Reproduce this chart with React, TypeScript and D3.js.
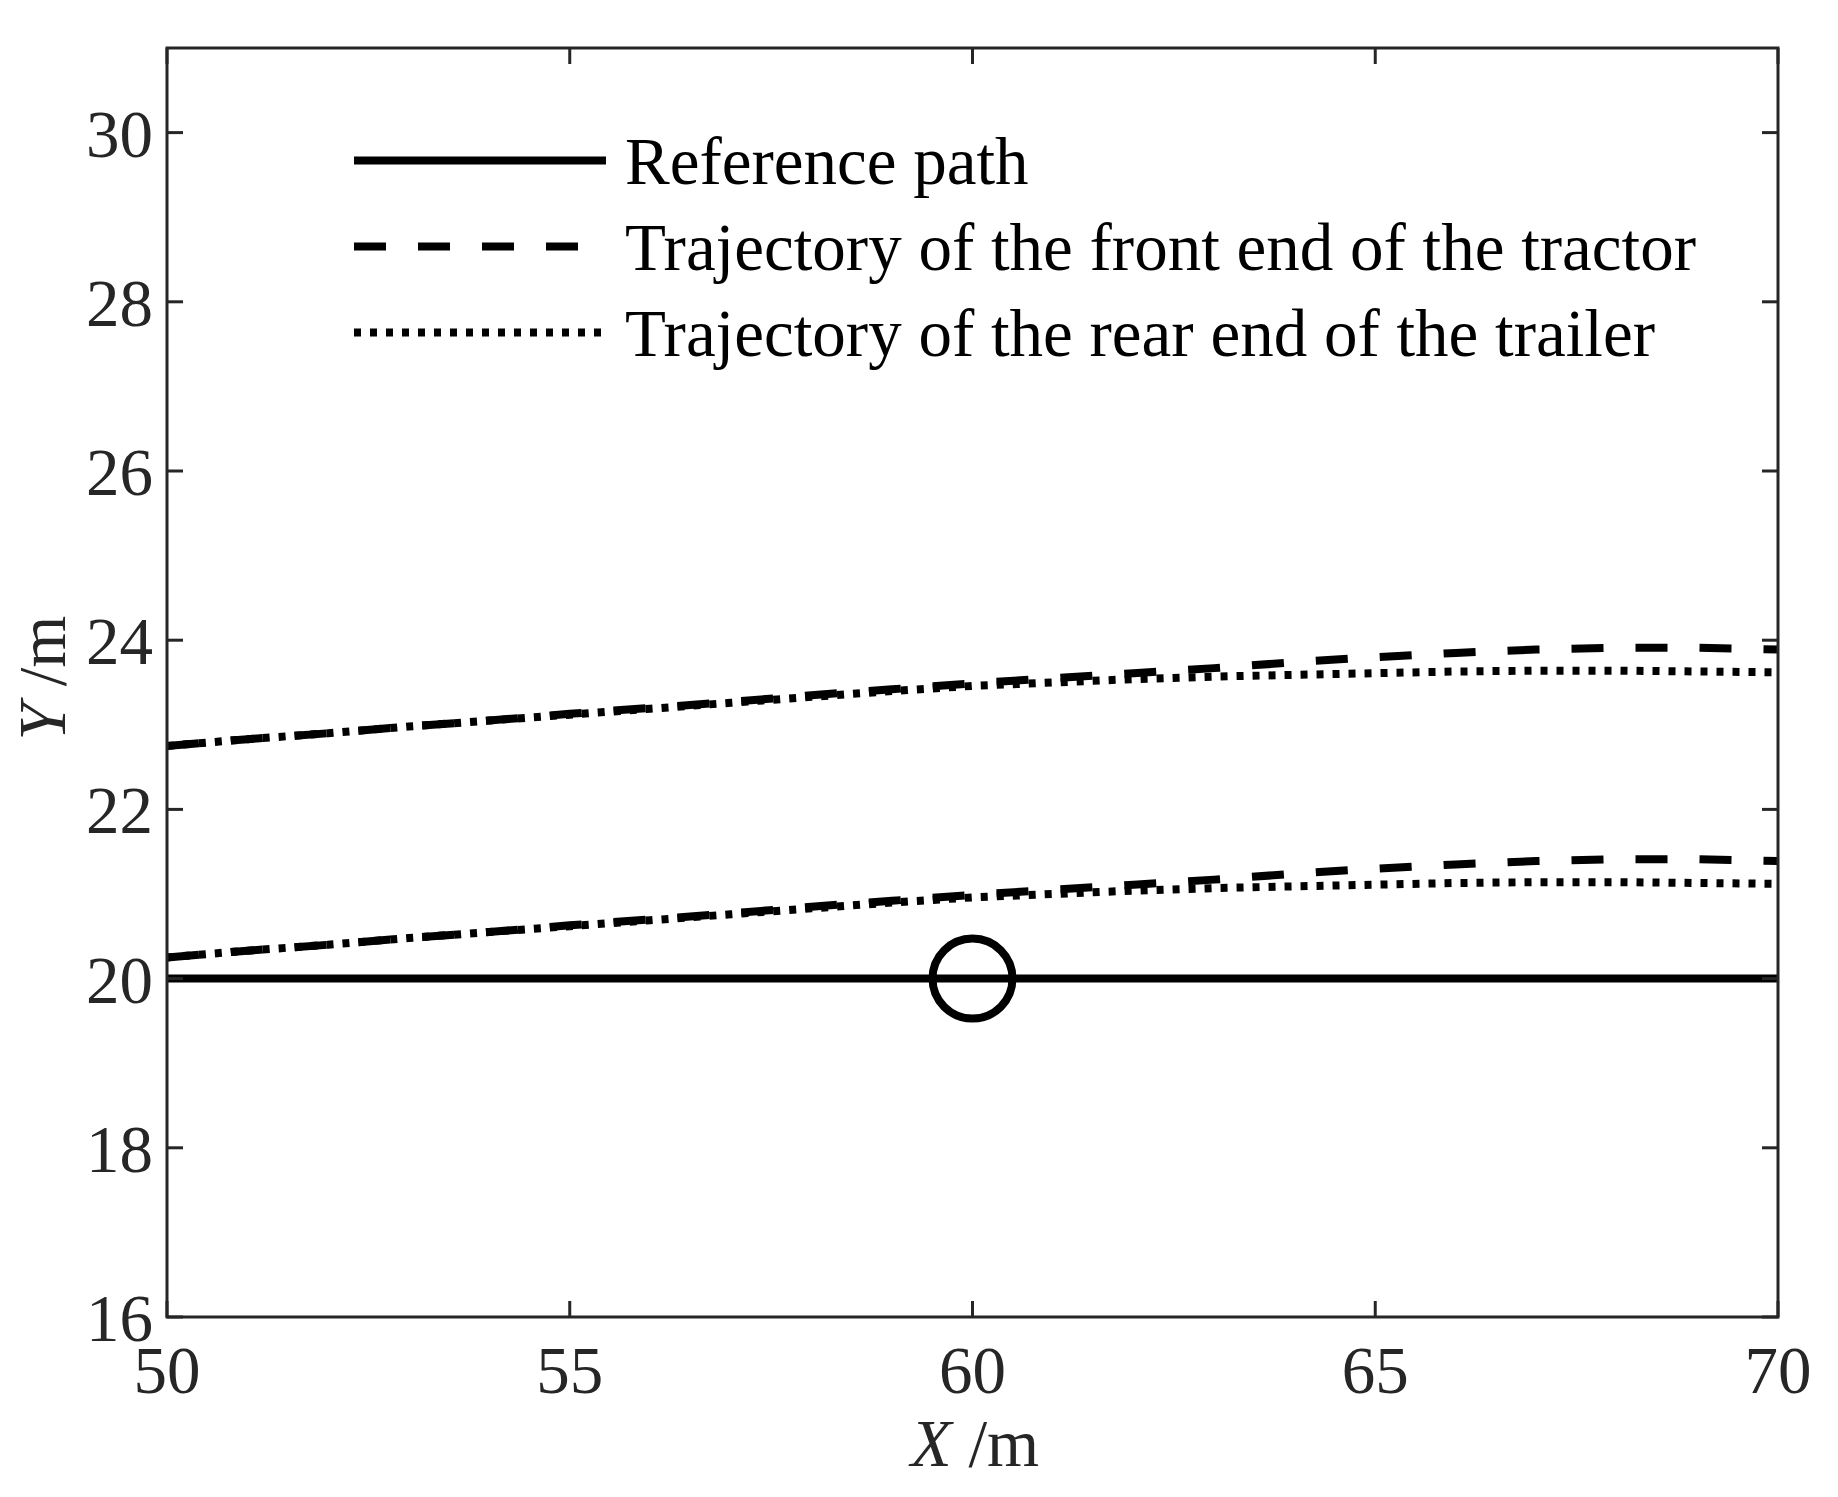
import React from "react";
import * as d3 from "d3";

// ---- data ----
const sampleX = [50, 51, 52, 53, 54, 55, 56, 57, 58, 59, 60, 61, 62, 63, 64, 65, 66, 67, 68, 69, 70];

// Trajectory of the front end of the tractor (dashed), upper and lower branch
const frontUpperY = [22.75, 22.83, 22.9, 22.98, 23.05, 23.13, 23.2, 23.27, 23.35, 23.42, 23.49, 23.55, 23.61, 23.67, 23.74, 23.8, 23.85, 23.89, 23.91, 23.91, 23.89];
const frontLowerY = [20.25, 20.33, 20.4, 20.48, 20.55, 20.63, 20.7, 20.77, 20.85, 20.92, 20.99, 21.05, 21.11, 21.17, 21.24, 21.3, 21.35, 21.39, 21.41, 21.41, 21.39];

// Trajectory of the rear end of the trailer (dotted), upper and lower branch
const rearUpperY = [22.75, 22.83, 22.9, 22.98, 23.05, 23.12, 23.19, 23.26, 23.33, 23.4, 23.46, 23.5, 23.54, 23.57, 23.59, 23.61, 23.63, 23.64, 23.64, 23.63, 23.62];
const rearLowerY = [20.25, 20.33, 20.4, 20.48, 20.55, 20.62, 20.69, 20.76, 20.83, 20.9, 20.96, 21.0, 21.04, 21.07, 21.09, 21.11, 21.13, 21.14, 21.14, 21.13, 21.12];

// Reference path
const refPathX = [50, 70];
const refPathY = [20, 20];

// Circle marker
const markerX = [60];
const markerY = [20];

const xTicks = [50, 55, 60, 65, 70];
const yTicks = [16, 18, 20, 22, 24, 26, 28, 30];

const legendLabels = [
  "Reference path",
  "Trajectory of the front end of the tractor",
  "Trajectory of the rear end of the trailer",
];

// ---- layout ----
const W = 1838;
const H = 1497;
const L = 167;
const R = 1778;
const T = 48;
const B = 1317;
const AX = "#262626";
const FONT = "'Liberation Serif', 'Times New Roman', serif";
const FS = 67;

export default function App() {
  const x = d3.scaleLinear().domain([50, 70]).range([L, R]);
  const y = d3.scaleLinear().domain([16, 31]).range([B, T]);

  const line = d3
    .line<[number, number]>()
    .x((d) => x(d[0]))
    .y((d) => y(d[1]));

  const pts = (xs: number[], ys: number[]) => xs.map((v, i) => [v, ys[i]] as [number, number]);

  const dashed = "32 32";
  const dotted = "7 9";
  const lw = 8;
  const tickLen = 16;

  const legendX0 = 354;
  const legendX1 = 606;
  const legendTextX = 625;
  const legendY = [160.5, 246.5, 332.5];
  const legendStyles = [{ dash: "none" }, { dash: dashed }, { dash: dotted }];

  return (
    <svg
      width={W}
      height={H}
      style={{ position: "absolute", left: 0, top: 0, display: "block", background: "#fff" }}
      fontFamily={FONT}
    >
      <rect x={0} y={0} width={W} height={H} fill="#fff" />
      <defs>
        <clipPath id="plotClip">
          <rect x={L} y={T} width={R - L} height={B - T} />
        </clipPath>
      </defs>

      {/* data */}
      <g clipPath="url(#plotClip)" fill="none" stroke="#000" strokeWidth={lw} strokeLinecap="butt">
        <path d={line(pts(refPathX, refPathY)) || ""} />
        <path d={line(pts(sampleX, frontUpperY)) || ""} strokeDasharray={dashed} />
        <path d={line(pts(sampleX, frontLowerY)) || ""} strokeDasharray={dashed} />
        <path d={line(pts(sampleX, rearUpperY)) || ""} strokeDasharray={dotted} />
        <path d={line(pts(sampleX, rearLowerY)) || ""} strokeDasharray={dotted} />
        {markerX.map((mx, i) => (
          <circle key={i} cx={x(mx)} cy={y(markerY[i])} r={40} strokeWidth={8} />
        ))}
      </g>

      {/* axes box and ticks */}
      <g stroke={AX} strokeWidth={3} fill="none">
        <rect x={L} y={T} width={R - L} height={B - T} />
        {xTicks.map((t) => (
          <g key={"xt" + t}>
            <line x1={x(t)} x2={x(t)} y1={B} y2={B - tickLen} />
            <line x1={x(t)} x2={x(t)} y1={T} y2={T + tickLen} />
          </g>
        ))}
        {yTicks.map((t) => (
          <g key={"yt" + t}>
            <line x1={L} x2={L + tickLen} y1={y(t)} y2={y(t)} />
            <line x1={R} x2={R - tickLen} y1={y(t)} y2={y(t)} />
          </g>
        ))}
      </g>

      {/* tick labels */}
      <g fill={AX} fontSize={FS}>
        {xTicks.map((t) => (
          <text key={"xl" + t} x={x(t)} y={1393} textAnchor="middle">
            {t}
          </text>
        ))}
        {yTicks.map((t) => (
          <text key={"yl" + t} x={153} y={y(t) + 24} textAnchor="end">
            {t}
          </text>
        ))}
      </g>

      {/* axis labels */}
      <text x={975} y={1466} textAnchor="middle" fontSize={FS} fill={AX}>
        <tspan fontStyle="italic">X</tspan>
        <tspan> /m</tspan>
      </text>
      <text transform={`translate(65, 678) rotate(-90)`} textAnchor="middle" fontSize={FS} fill={AX}>
        <tspan fontStyle="italic">Y</tspan>
        <tspan> /m</tspan>
      </text>

      {/* legend */}
      <g>
        {legendLabels.map((lab, i) => (
          <g key={"lg" + i}>
            <line
              x1={legendX0}
              x2={legendX1}
              y1={legendY[i]}
              y2={legendY[i]}
              stroke="#000"
              strokeWidth={lw}
              strokeDasharray={legendStyles[i].dash}
            />
            <text x={legendTextX} y={legendY[i] + 23} fontSize={FS} fill="#000">
              {lab}
            </text>
          </g>
        ))}
      </g>
    </svg>
  );
}
